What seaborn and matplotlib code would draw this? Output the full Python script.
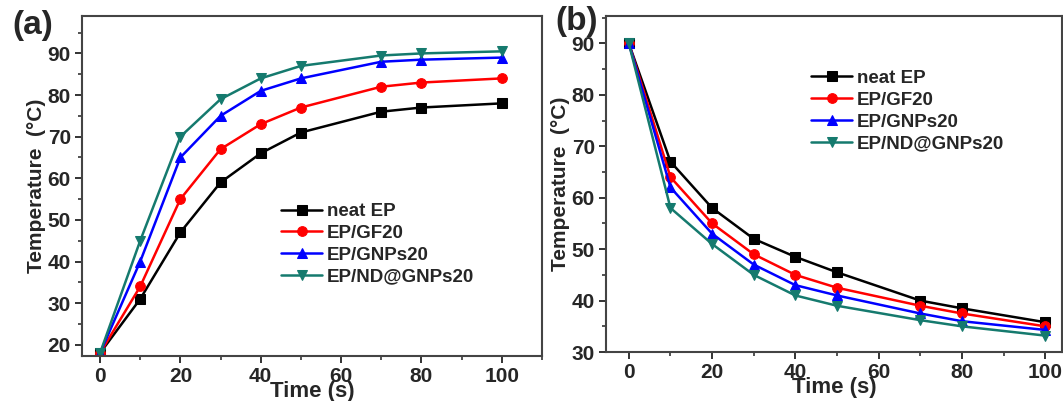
import numpy as np
import pandas as pd
import matplotlib
matplotlib.use("Agg")
import matplotlib.pyplot as plt
import seaborn as sns
from matplotlib.ticker import MultipleLocator

sns.set_style("ticks")
plt.rcParams['font.family'] = ['Liberation Sans', 'DejaVu Sans']
plt.rcParams['font.weight'] = 'bold'
plt.rcParams['axes.labelweight'] = 'bold'

# time points (s)
time = [0, 10, 20, 30, 40, 50, 70, 80, 100]

labels = ["neat EP", "EP/GF20", "EP/GNPs20", "EP/ND@GNPs20"]
colors = ["#000000", "#ff0000", "#0000ff", "#157a6e"]
markers = ["s", "o", "^", "v"]

# (a) heating
heat_neat = [18, 31, 47, 59, 66, 71, 76, 77, 78]
heat_gf = [18, 34, 55, 67, 73, 77, 82, 83, 84]
heat_gnp = [18, 40, 65, 75, 81, 84, 88, 88.5, 89]
heat_nd = [18, 45, 70, 79, 84, 87, 89.5, 90, 90.5]

# (b) cooling
cool_neat = [90, 67, 58, 52, 48.5, 45.5, 40, 38.5, 35.8]
cool_gf = [90, 64, 55, 49, 45, 42.5, 39, 37.5, 35]
cool_gnp = [90, 62, 53, 47, 43, 41, 37.5, 36, 34.3]
cool_nd = [90, 58, 51, 45, 41, 39, 36.2, 35, 33.2]

heat = [heat_neat, heat_gf, heat_gnp, heat_nd]
cool = [cool_neat, cool_gf, cool_gnp, cool_nd]

fig = plt.figure(figsize=(10.63, 4.01), dpi=100)
ax1 = fig.add_axes([0.0771, 0.1122, 0.4327, 0.848])
ax2 = fig.add_axes([0.570, 0.122, 0.429, 0.838])


def draw(ax, series, xlim, ylim, leg_anchor):
    for ys, lab, c, m in zip(series, labels, colors, markers):
        df = pd.DataFrame({"t": time, "T": ys})
        sns.lineplot(data=df, x="t", y="T", ax=ax, color=c, marker=m,
                     markersize=7, markeredgecolor=c, linewidth=1.8,
                     label=lab)
    ax.set_xlim(*xlim)
    ax.set_ylim(*ylim)
    ax.xaxis.set_major_locator(MultipleLocator(20))
    ax.xaxis.set_minor_locator(MultipleLocator(10))
    ax.yaxis.set_major_locator(MultipleLocator(10))
    ax.yaxis.set_minor_locator(MultipleLocator(5))
    ax.tick_params(which='major', direction='out', length=5, width=1.4,
                   labelsize=15, color='#333333', pad=3)
    ax.tick_params(which='minor', direction='out', length=3, width=1.2,
                   color='#333333')
    for lbl in ax.get_xticklabels() + ax.get_yticklabels():
        lbl.set_fontweight('bold')
    for sp in ax.spines.values():
        sp.set_visible(True)
        sp.set_linewidth(1.5)
        sp.set_color('#444444')
    ax.set_xlabel("Time (s)", fontsize=16, labelpad=-4)
    ax.set_ylabel("Temperature  (\u00b0C)", fontsize=15, labelpad=1)
    ax.legend(loc='upper left', bbox_to_anchor=leg_anchor, frameon=False,
              borderpad=0, borderaxespad=0, handlelength=2.2,
              handletextpad=0.25, labelspacing=0.25,
              prop={'weight': 'bold', 'size': 13.5})


draw(ax1, heat, (-4.5, 110), (17.3, 99), (0.433, 0.45))
draw(ax2, cool, (-5.5, 104), (30, 95.3), (0.45, 0.84))

fig.text(0.012, 0.975, "(a)", fontsize=24, fontweight='bold', va='top')
fig.text(0.522, 0.985, "(b)", fontsize=24, fontweight='bold', va='top')

fig.savefig("out.png", dpi=100)
